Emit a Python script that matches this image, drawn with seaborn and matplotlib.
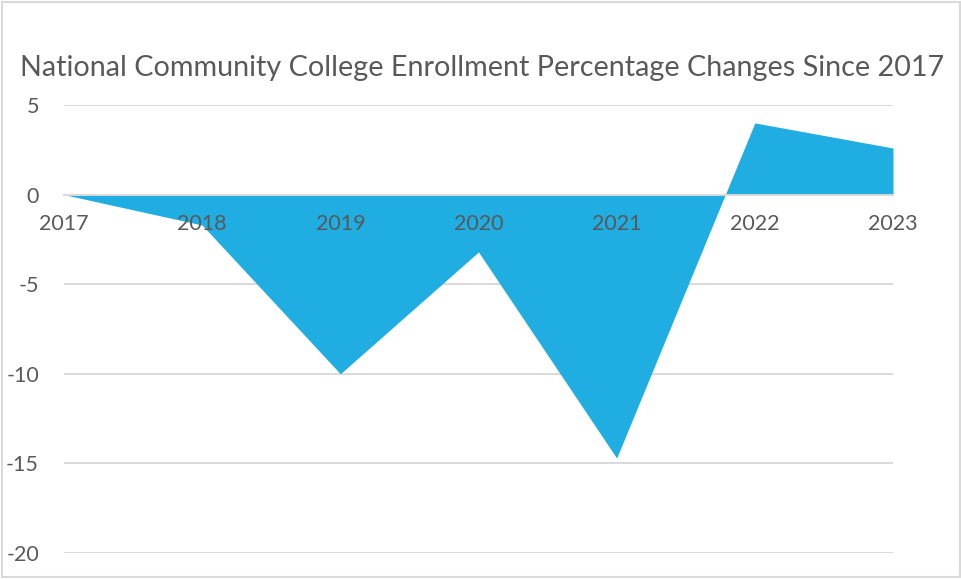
import matplotlib
matplotlib.use("Agg")
import matplotlib.pyplot as plt
import seaborn as sns
import pandas as pd
from matplotlib.patches import Rectangle
from matplotlib import font_manager

years = [2017, 2018, 2019, 2020, 2021, 2022, 2023]
pct_change = [0.0, -1.7, -10.0, -3.2, -14.7, 4.0, 2.6]
y_ticks = [5, 0, -5, -10, -15, -20]
title_text = "National Community College Enrollment Percentage Changes Since 2017"

df = pd.DataFrame({"year": years, "change": pct_change})

sns.set_theme(style="white")
names = {f.name for f in font_manager.fontManager.ttflist}
fam = "Lato" if "Lato" in names else "DejaVu Sans"
plt.rcParams["font.family"] = [fam, "DejaVu Sans"]
plt.rcParams["axes.unicode_minus"] = False

W, H = 962, 579
fig = plt.figure(figsize=(W / 100, H / 100), dpi=100)
ax = fig.add_axes([64 / W, (H - 553) / H, (893 - 64) / W, (553 - 105) / H])
ax.set_axisbelow(False)

fill_color = "#1FADE2"
grey_txt = "#595959"
grid_c = "#D9D9D9"

sns.lineplot(data=df, x="year", y="change", ax=ax, linewidth=0, color=fill_color)
ax.fill_between(df["year"], df["change"], 0, color=fill_color, linewidth=0, zorder=2)

ax.set_xlim(years[0], years[-1])
ax.set_ylim(-20, 5)
ax.set_yticks(y_ticks)
ax.set_yticklabels([str(t) for t in y_ticks])
ax.set_xticks(years)
ax.set_xticklabels([str(y) for y in years])
ax.set_xlabel("")
ax.set_ylabel("")

for t in y_ticks:
    if t != 0:
        ax.axhline(t, color=grid_c, linewidth=1.4, zorder=1)

for s in ["top", "right", "left"]:
    ax.spines[s].set_visible(False)
ax.spines["bottom"].set_position(("data", 0))
ax.spines["bottom"].set_color(grid_c)
ax.spines["bottom"].set_linewidth(1.4)
ax.spines["bottom"].set_zorder(3)

ax.tick_params(axis="x", direction="out", length=5, width=1.1, color=grid_c,
               labelcolor=grey_txt, labelsize=15.5, pad=9)
ax.tick_params(axis="y", length=0, labelcolor=grey_txt, labelsize=15.5, pad=18)

# title sized to match reference width
title = fig.text(20 / W, 1 - 68 / H, title_text, ha="left", va="center",
                 color=grey_txt, fontsize=24, fontweight="normal")
fig.canvas.draw()
bb = title.get_window_extent()
title.set_fontsize(24 * 925 / bb.width)

fig.patches.append(Rectangle((2 / W, 2 / H), (W - 4) / W, (H - 4) / H,
                             transform=fig.transFigure, fill=False,
                             edgecolor=grid_c, linewidth=1.5))

fig.savefig("out.png", dpi=100)
